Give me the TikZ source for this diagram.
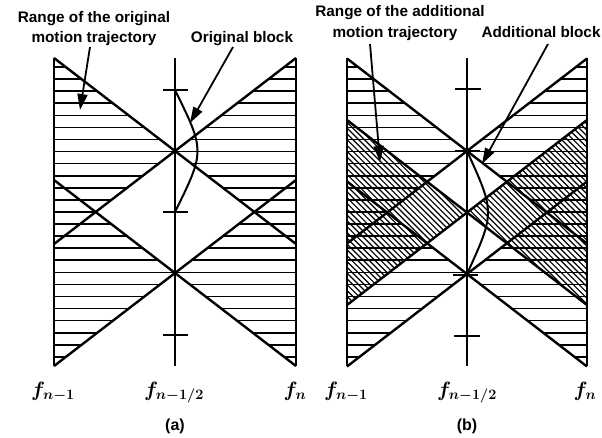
\documentclass[tikz,border=0pt]{standalone}
\usepackage{fontspec}
\setmainfont{Liberation Sans}
\usetikzlibrary{arrows.meta}
\newcommand\hhatch[5]{%
  \begin{scope}
    \clip (#1,#4-#5) -- (#2,#4) -- (#1,#4+#5) -- cycle;
    \foreach \k in {0,...,24} \draw[hatch] (#1-5,67+12.08*\k) -- (#2+5,67+12.08*\k);
  \end{scope}
  \begin{scope}
    \clip (#3,#4-#5) -- (#2,#4) -- (#3,#4+#5) -- cycle;
    \foreach \k in {0,...,24} \draw[hatch] (#2-5,67+12.08*\k) -- (#3+5,67+12.08*\k);
  \end{scope}}
\newcommand\dhatchtri[5]{%
  \begin{scope}
    \clip (#1,#4-#5) -- (#2,#4) -- (#1,#4+#5) -- cycle;
    \foreach \c in {-480,-474.2,...,-20} \draw[dhatch] (330,330+\c) -- (610,610+\c);
  \end{scope}
  \begin{scope}
    \clip (#3,#4-#5) -- (#2,#4) -- (#3,#4+#5) -- cycle;
    \foreach \c in {-480,-474.2,...,-20} \draw[dhatch] (330,330+\c) -- (610,610+\c);
  \end{scope}}
\newcommand\myX[5]{%
  \draw[outline] (#1,#4-#5) -- (#3,#4+#5);
  \draw[outline] (#3,#4-#5) -- (#1,#4+#5);}
\begin{document}
\begin{tikzpicture}[x=1pt,y=-1pt,
  outline/.style={line width=2.4pt},
  hatch/.style={line width=1.6pt},
  dhatch/.style={line width=1.2pt},
  tickmark/.style={line width=2.4pt},
  arcline/.style={line width=2pt},
  lab/.style={font=\fontsize{15.3}{18}\selectfont\bfseries, inner sep=0pt, anchor=base},
  flab/.style={font=\fontsize{20}{24}\selectfont\boldmath, inner sep=0pt, anchor=base},
  arr/.style={line width=1.8pt, -{Triangle[length=16pt,width=10pt]}},
]
\useasboundingbox[fill=white] (0,0) rectangle (602,437);

% ---------- panel (a) ----------
\hhatch{54}{175}{296}{151}{93}
\hhatch{54}{175}{296}{273}{93}
\myX{54}{175}{296}{151}{93}
\myX{54}{175}{296}{273}{93}
\draw[outline] (54,58) -- (54,366);
\draw[outline] (296,58) -- (296,366);
\draw[outline] (175,58) -- (175,366);
\draw[tickmark] (163,90) -- (188,90);
\draw[tickmark] (163,212) -- (188,212);
\draw[tickmark] (163,335) -- (188,335);
\draw[arcline] (175,90) .. controls (205,151) .. (175,212);

\node[lab] (ta1) at (94,22) {Range of the original};
\node[lab] (ta2) at (94,42) {motion trajectory};
\node[lab] (ta3) at (242,42) {Original block};
\coordinate (a1s) at (90,47);
\coordinate (a1t) at (80,110);
\coordinate (a2s) at (233,47);
\coordinate (a2t) at (190,123);
\draw[arr] (a1s) -- (a1t);
\draw[arr] (a2s) -- (a2t);

\node[flab] (fa1) at (53,396) {$f_{n-1}$};
\node[flab] (fa2) at (174,396) {$f_{n-1/2}$};
\node[flab] (fa3) at (295,396) {$f_{n}$};
\node[lab, font=\fontsize{16}{18}\selectfont\bfseries] (capa) at (175,430) {(a)};

% ---------- panel (b) ----------
\dhatchtri{347}{467}{587}{212.5}{92.5}
\hhatch{347}{467}{587}{151}{92.5}
\hhatch{347}{467}{587}{274}{92.5}
\myX{347}{467}{587}{151}{92.5}
\myX{347}{467}{587}{212.5}{92.5}
\myX{347}{467}{587}{274}{92.5}
\draw[outline] (347,58) -- (347,366);
\draw[outline] (587,58) -- (587,366);
\draw[outline] (467,58) -- (467,366);
\draw[tickmark] (455,89) -- (481,89);
\draw[tickmark] (455,151) -- (480,151);
\draw[tickmark] (453,275) -- (478,275);
\draw[tickmark] (454,336) -- (480,336);
\draw[arcline] (467,151) .. controls (495,212.5) .. (467,274);

\node[lab] (tb1) at (400,16) {Range of the additional};
\node[lab] (tb2) at (395,37) {motion trajectory};
\node[lab] (tb3) at (541,37) {Additional block};
\coordinate (b1s) at (370,44);
\coordinate (b1t) at (380,162);
\coordinate (b2s) at (548,44);
\coordinate (b2t) at (482,164);
\draw[arr] (b1s) -- (b1t);
\draw[arr] (b2s) -- (b2t);

\node[flab] (fb1) at (346,396) {$f_{n-1}$};
\node[flab] (fb2) at (467,396) {$f_{n-1/2}$};
\node[flab] (fb3) at (585,396) {$f_{n}$};
\node[lab, font=\fontsize{16}{18}\selectfont\bfseries] (capb) at (467,430) {(b)};
\end{tikzpicture}
\end{document}
